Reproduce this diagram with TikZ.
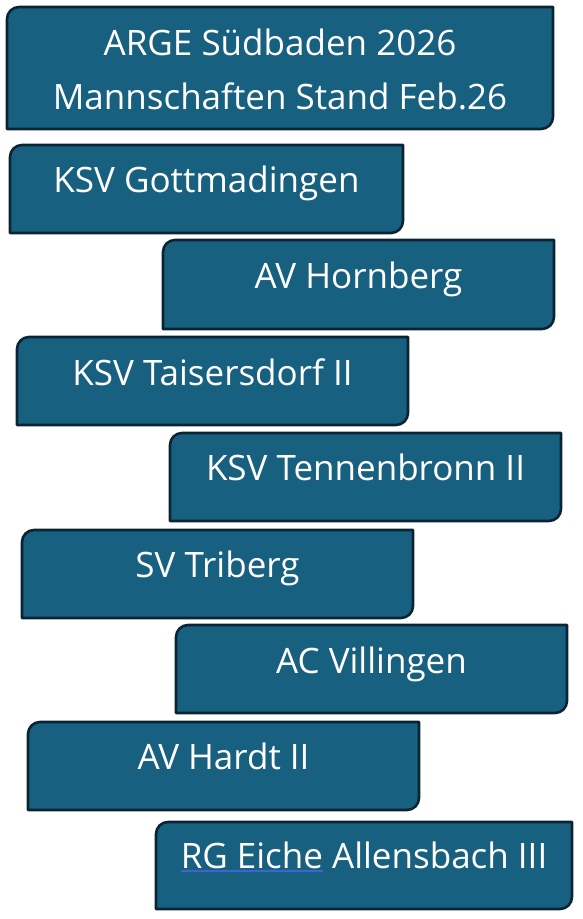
\documentclass[tikz,border=0pt]{standalone}
\usepackage{fontspec}
\setmainfont{Open Sans}
\definecolor{boxfill}{RGB}{24,96,128}
\definecolor{boxline}{RGB}{10,36,52}
\definecolor{ulblue}{RGB}{60,100,210}
\tikzset{
  teambox/.style={fill=boxfill, draw=boxline, line width=2.6pt, line join=round},
  teamtext/.style={anchor=base, text=white, font=\fontsize{35}{40}\selectfont, inner sep=0pt}
}
% #1 name, #2 x1, #3 top, #4 x2, #5 bottom, #6 baseline, #7 text
\newcommand\teamBox[7]{%
  \coordinate (#1tl) at (#2,-#3);
  \coordinate (#1br) at (#4,-#5);
  \draw[teambox] (#2,-#5) -- (#2,{-#3-12}) arc[start angle=180,end angle=90,radius=12pt]
     -- (#4,-#3) -- (#4,{-#5+12}) arc[start angle=0,end angle=-90,radius=12pt] -- cycle;
  \node[teamtext] (#1) at ({(#2+#4)/2},-#6) {#7};
}
\begin{document}
\begin{tikzpicture}[x=1pt,y=1pt]
\useasboundingbox (0,0) rectangle (583,-919);
\draw[teambox] (7,-129) -- (7,-19) arc[start angle=180,end angle=90,radius=12pt]
   -- (553,-7) -- (553,-117) arc[start angle=0,end angle=-90,radius=12pt] -- cycle;
\node[teamtext] (title1) at (280,-55) {ARGE Südbaden 2026};
\node[teamtext] (title2) at (280,-109) {Mannschaften Stand Feb.26};
\teamBox{t1}{10}{145}{403}{233}{192}{KSV Gottmadingen}
\teamBox{t2}{163}{240}{554}{329}{288}{AV Hornberg}
\teamBox{t3}{17}{337}{408}{425}{385}{KSV Taisersdorf II}
\teamBox{t4}{170}{433}{561}{521}{480}{KSV Tennenbronn II}
\teamBox{t5}{22}{530}{413}{618}{577}{SV Triberg}
\teamBox{t6}{176}{625}{567}{713}{673}{AC Villingen}
\teamBox{t7}{28}{722}{419}{810}{769}{AV Hardt II}
\teamBox{t8}{156}{822}{572}{909}{868}{\setbox0\hbox{RG Eiche}\rlap{\color{ulblue}\rule[-4pt]{\wd0}{1.6pt}}\box0\ Allensbach III}
\end{tikzpicture}
\end{document}
